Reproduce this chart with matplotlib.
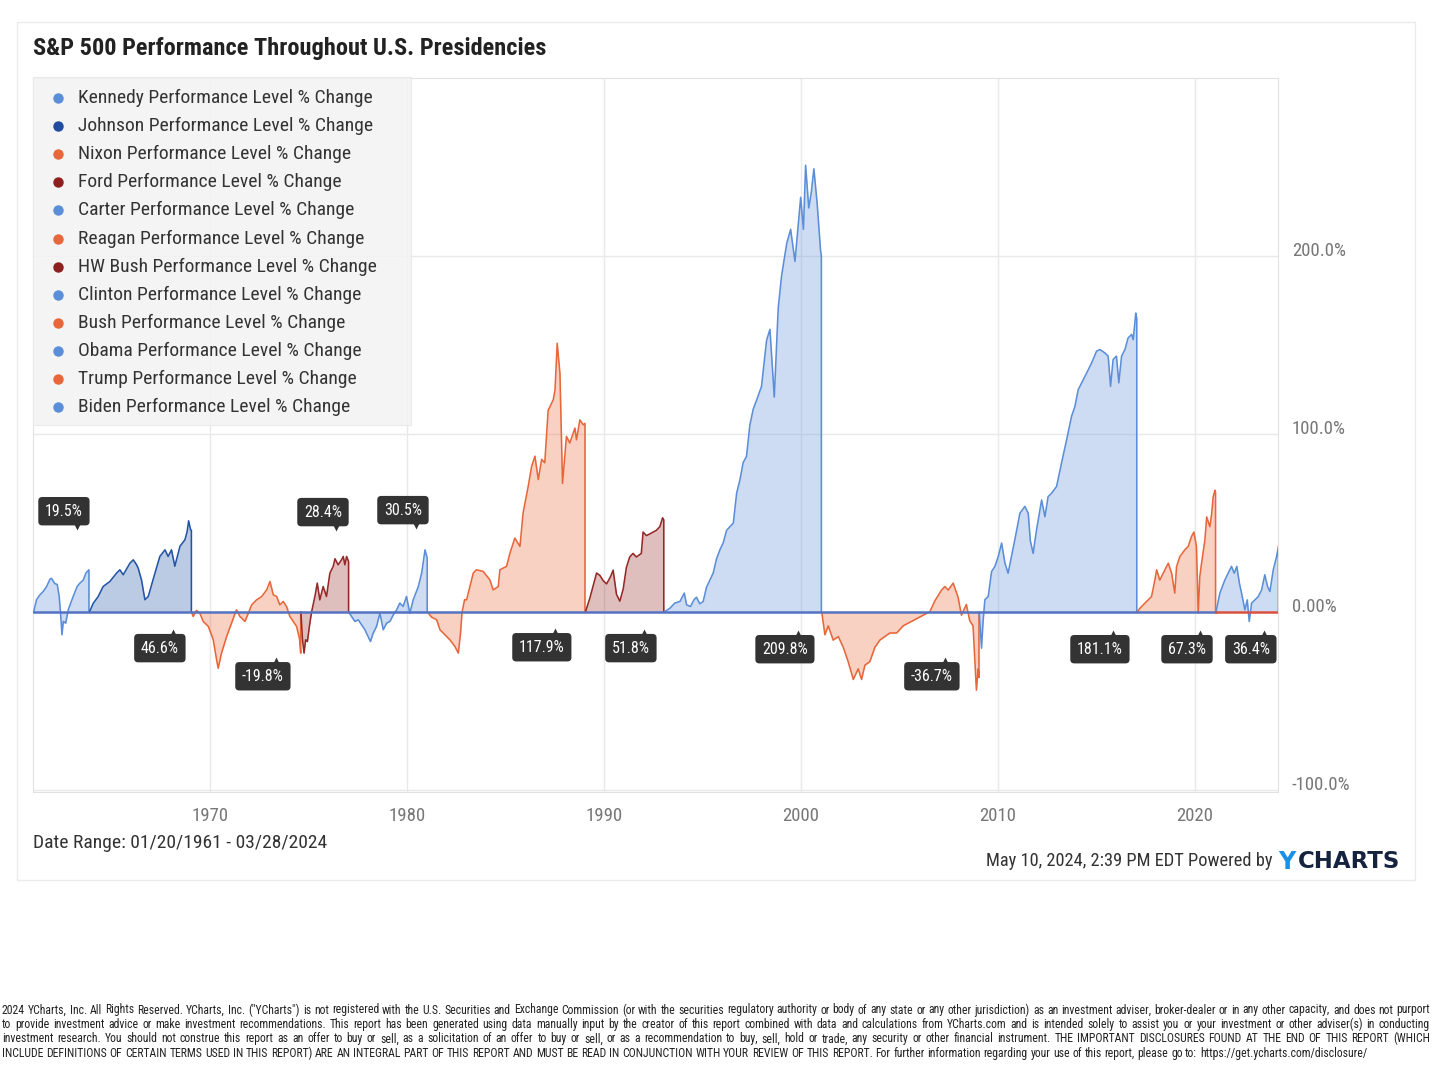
import numpy as np
import matplotlib
matplotlib.use("Agg")
import matplotlib.pyplot as plt
from matplotlib import font_manager as fm
from matplotlib.patches import Rectangle


def pick_font(names):
    for n in names:
        try:
            fm.findfont(fm.FontProperties(family=n), fallback_to_default=False)
            return n
        except Exception:
            pass
    return "DejaVu Sans"


NARROW = pick_font(["Roboto Condensed", "Liberation Sans Narrow", "DejaVu Sans Condensed", "Roboto"])
plt.rcParams["font.family"] = [NARROW, "DejaVu Sans"]

# ---- data (decimal year, % change since inauguration) ----
presidents = ["Kennedy", "Johnson", "Nixon", "Ford", "Carter", "Reagan",
              "HW Bush", "Clinton", "Bush", "Obama", "Trump", "Biden"]
kind = ["D", "D2", "R", "R2", "D", "R", "R2", "D", "R", "D", "R", "D"]

kennedy_t = [1961.05, 1961.2, 1961.37, 1961.54, 1961.71, 1961.88, 1961.96, 1962.13, 1962.25, 1962.35,
             1962.42, 1962.49, 1962.56, 1962.68, 1962.81, 1962.93, 1963.06, 1963.26, 1963.4, 1963.57,
             1963.71, 1963.86]
kennedy_v = [0, 7, 9.7, 11.6, 14.4, 18.5, 19, 16, 15.6, 8.8, -0.6, -12.7, -5.2, -6.2, 1.3, 5, 8.8, 14.4,
             16.3, 18, 22, 23.8]

johnson_t = [1963.88, 1964.08, 1964.33, 1964.58, 1964.92, 1965.26, 1965.43, 1965.6, 1965.94, 1966.11,
             1966.28, 1966.36, 1966.53, 1966.7, 1966.87, 1967.21, 1967.46, 1967.72, 1967.88, 1968.05,
             1968.22, 1968.48, 1968.73, 1968.84, 1968.92, 1969.02, 1969.06]
johnson_v = [0, 5, 8.8, 14.4, 17.2, 21.9, 23.8, 21, 27.5, 29.4, 26.6, 24.7, 18, 7, 8.8, 21.9, 31.3, 35,
             31.3, 35, 25.8, 37, 40.6, 45, 51.3, 46.3, 46]

nixon_t = [1969.07, 1969.15, 1969.32, 1969.49, 1969.66, 1969.92, 1970.17, 1970.34, 1970.42, 1970.59,
           1970.85, 1971.19, 1971.35, 1971.52, 1971.78, 1971.95, 1972.12, 1972.37, 1972.63, 1972.88,
           1973.05, 1973.22, 1973.39, 1973.55, 1973.72, 1973.89, 1974.06, 1974.23, 1974.4, 1974.55,
           1974.61]
nixon_v = [0, -2.4, 1, -0.6, -5.2, -8, -15.5, -26.8, -31.5, -23, -13.7, -3.4, 1.3, -2.4, -5.2, -0.6, 4.1,
           6.9, 8.8, 12.5, 17.2, 9.7, 8.8, 4.1, 6, 3.2, -2.4, -5.2, -8, -15, -23]

ford_t = [1974.62, 1974.7, 1974.78, 1974.86, 1974.95, 1975.05, 1975.16, 1975.33, 1975.45, 1975.58,
          1975.75, 1975.92, 1976.09, 1976.26, 1976.35, 1976.51, 1976.68, 1976.77, 1976.85, 1976.94,
          1977.04]
ford_v = [0, -15.5, -23, -15.5, -16.5, -8, 0, 8.8, 16.3, 6.9, 14.4, 8.8, 21.9, 25.7, 30, 26.6, 29.4,
          31.3, 26.6, 31.3, 28.4]

carter_t = [1977.05, 1977.19, 1977.36, 1977.53, 1977.7, 1977.87, 1978.03, 1978.15, 1978.29, 1978.46,
            1978.63, 1978.8, 1978.97, 1979.14, 1979.31, 1979.48, 1979.64, 1979.81, 1979.98, 1980.15,
            1980.32, 1980.58, 1980.75, 1980.92, 1981.03]
carter_v = [0, -2.4, -5.2, -4.3, -7.1, -9.9, -13.7, -16.5, -11.8, -8, -0.6, -9.9, -6.2, -5.2, -1.5, 1.3,
            5.1, 3.2, 8.8, -0.6, 6.9, 14.4, 21.9, 35, 30.5]

reagan_t = [1981.05, 1981.25, 1981.51, 1981.68, 1981.93, 1982.18, 1982.44, 1982.61, 1982.72, 1982.8,
            1982.93, 1983.03, 1983.37, 1983.53, 1983.87, 1984.21, 1984.38, 1984.64, 1984.72, 1985.06,
            1985.23, 1985.48, 1985.74, 1985.9, 1986.16, 1986.33, 1986.5, 1986.67, 1986.84, 1987.0,
            1987.17, 1987.43, 1987.52, 1987.63, 1987.77, 1987.9, 1988.1, 1988.27, 1988.53, 1988.61,
            1988.78, 1988.95, 1989.04]
reagan_v = [0, -2.8, -4.3, -9.9, -12.7, -15.5, -19.3, -23, -12, 0, 7, 6.9, 22, 23.8, 22.9, 18.2, 12.5,
            14.4, 23.8, 25.7, 33.1, 41.6, 36.9, 55.8, 70.8, 81.8, 87.6, 74.5, 85.8, 83.9, 113.3, 119.3,
            125, 151, 134, 72.3, 98.7, 95, 103.4, 96.8, 108, 105.2, 106]

hwbush_t = [1989.06, 1989.29, 1989.46, 1989.63, 1989.8, 1989.97, 1990.14, 1990.34, 1990.47, 1990.64,
            1990.81, 1990.98, 1991.14, 1991.31, 1991.48, 1991.65, 1991.9, 1991.99, 1992.16, 1992.34,
            1992.5, 1992.67, 1992.84, 1992.98, 1993.04]
hwbush_v = [0, 8, 15, 22, 20.6, 17.6, 15.9, 20, 23.6, 10, 6.2, 13, 25, 31, 33, 31, 33, 45, 43, 44, 45,
            46, 48, 53, 51.8]

clinton_t = [1993.05, 1993.35, 1993.6, 1993.86, 1994.08, 1994.2, 1994.4, 1994.57, 1994.7, 1994.87,
             1995.04, 1995.21, 1995.55, 1995.72, 1995.89, 1996.06, 1996.23, 1996.4, 1996.57, 1996.74,
             1996.9, 1997.07, 1997.24, 1997.41, 1997.58, 1997.75, 1998.0, 1998.26, 1998.43, 1998.65,
             1998.85, 1999.02, 1999.28, 1999.48, 1999.7, 1999.99, 2000.13, 2000.24, 2000.4, 2000.52,
             2000.66, 2000.83, 2001.0, 2001.04]
clinton_v = [0, 2.2, 5.1, 6, 10.7, 4.1, 3.2, 6.9, 8.4, 4.7, 6, 14, 22, 30, 35, 39, 46, 48, 50, 66.9,
             74, 84, 87.5, 105, 114, 119, 126.7, 152.8, 158.8, 120.8, 170.8, 188.9, 207, 215, 197, 233,
             215, 251, 227, 235, 249, 229, 203, 200]

bush_t = [2001.06, 2001.22, 2001.39, 2001.64, 2001.9, 2002.15, 2002.4, 2002.66, 2002.91, 2003.08,
          2003.25, 2003.5, 2003.76, 2004.01, 2004.26, 2004.52, 2004.86, 2005.19, 2005.53, 2005.87,
          2006.21, 2006.55, 2006.8, 2007.14, 2007.31, 2007.48, 2007.73, 2007.98, 2008.15, 2008.4,
          2008.57, 2008.74, 2008.91, 2009.0, 2009.04]
bush_v = [0, -12.7, -7.7, -15.7, -13.7, -19.7, -27.8, -37.8, -31.8, -37.8, -29.8, -27.8, -19.7, -15.7,
          -13.7, -11.7, -11.7, -7.7, -5.7, -3.7, -1.7, 0.3, 6.3, 12.4, 14.4, 12.4, 16.3, 8.4, -1.7, 4.3,
          -4.7, -7.7, -43.8, -31.8, -36.7]

obama_t = [2009.05, 2009.1, 2009.17, 2009.25, 2009.34, 2009.51, 2009.68, 2009.85, 2010.02, 2010.19,
           2010.36, 2010.52, 2010.69, 2010.86, 2011.12, 2011.37, 2011.54, 2011.65, 2011.79, 2011.96,
           2012.22, 2012.39, 2012.55, 2012.72, 2012.98, 2013.23, 2013.49, 2013.74, 2013.91, 2014.08,
           2014.42, 2014.76, 2015.01, 2015.18, 2015.43, 2015.6, 2015.72, 2015.85, 2016.02, 2016.14,
           2016.28, 2016.45, 2016.61, 2016.79, 2016.87, 2017.0, 2017.05]
obama_v = [0, -8, -20.2, -5, 7, 8.8, 22.8, 25.7, 31.3, 38.8, 27.5, 21.9, 31.3, 40.6, 55.6, 59.4, 55.6,
           40, 33, 46, 63, 53.6, 64.9, 66.7, 70.6, 83.7, 96.8, 110, 115.5, 125, 132.4, 140, 146.6,
           147.5, 145.6, 143.8, 126.8, 141.9, 143.8, 128.8, 143.8, 147.5, 154, 156, 153, 168, 165]

trump_t = [2017.07, 2017.21, 2017.55, 2017.8, 2017.97, 2018.06, 2018.22, 2018.48, 2018.65, 2018.82,
           2018.98, 2019.07, 2019.24, 2019.49, 2019.66, 2019.83, 2019.95, 2020.08, 2020.17, 2020.25,
           2020.34, 2020.51, 2020.6, 2020.76, 2020.85, 2020.93, 2021.02, 2021.05]
trump_v = [0, 2.2, 6, 8.8, 18, 23.8, 18, 23.8, 27.5, 21.9, 10.7, 25.5, 31.3, 35, 36.9, 42.5, 45, 37,
           -0.6, 20, 27.5, 40.6, 53.5, 48, 55, 64.8, 68.5, 67.3]

biden_t = [2021.07, 2021.27, 2021.52, 2021.69, 2021.86, 2022.0, 2022.13, 2022.26, 2022.37, 2022.54,
           2022.66, 2022.76, 2022.88, 2023.05, 2023.22, 2023.39, 2023.55, 2023.69, 2023.81, 2023.98,
           2024.15, 2024.24]
biden_v = [0, 10.7, 18, 21.9, 25.7, 21.9, 25.7, 16.3, 10.7, 1.3, 6.9, -5.2, 5.1, 6.9, 8.8, 12.5, 21,
           14.4, 11.6, 23.8, 31.3, 37]

series_t = [kennedy_t, johnson_t, nixon_t, ford_t, carter_t, reagan_t,
            hwbush_t, clinton_t, bush_t, obama_t, trump_t, biden_t]
series_v = [kennedy_v, johnson_v, nixon_v, ford_v, carter_v, reagan_v,
            hwbush_v, clinton_v, bush_v, obama_v, trump_v, biden_v]

end_labels = ["19.5%", "46.6%", "-19.8%", "28.4%", "30.5%", "117.9%",
              "51.8%", "209.8%", "-36.7%", "181.1%", "67.3%", "36.4%"]

# ---- style ----
line_col = {"D": "#5B8ED8", "D2": "#2354A6", "R": "#E8673A", "R2": "#962828"}
dot_col = {"D": "#5B8ED8", "D2": "#1F4C9E", "R": "#E8673A", "R2": "#8E1F1F"}

W, H = 1434, 1068
fig = plt.figure(figsize=(W / 100, H / 100), dpi=100)
fig.patch.set_facecolor("white")


def fx(px):
    return px / W


def fy(py):
    return 1 - py / H


# card frame
fig.patches.append(Rectangle((fx(17), fy(880)), fx(1415) - fx(17), fy(22) - fy(880),
                             transform=fig.transFigure, fc="white", ec="#EBEBEB", lw=1, zorder=-5))

ax = fig.add_axes([fx(33), fy(792), fx(1278) - fx(33), fy(78) - fy(792)])
ax.patch.set_alpha(0)
ax.set_xlim(1961.02, 2024.22)
ax.set_ylim(-101, 300)

ax.set_xticks([1970, 1980, 1990, 2000, 2010, 2020])
ax.set_yticks([-100, 0, 100, 200])
ax.set_yticklabels(["-100.0%", "0.00%", "100.0%", "200.0%"])
ax.yaxis.tick_right()
ax.tick_params(axis="both", length=0, colors="#777777", labelsize=13.5)
ax.tick_params(axis="x", pad=11)
ax.tick_params(axis="y", pad=10)
for lab in ax.get_yticklabels():
    lab.set_transform(lab.get_transform() + matplotlib.transforms.ScaledTranslation(0, 7 / 100, fig.dpi_scale_trans))
ax.grid(True, color="#E9E9E9", lw=1)
ax.set_axisbelow(True)
for sp in ax.spines.values():
    sp.set_color("#E2E2E2")

for t, v, k in zip(series_t, series_v, kind):
    c = line_col[k]
    ax.fill_between(t, v, 0, color=c, alpha=0.3, lw=0, zorder=2)
    ax.plot(list(t) + [t[-1]], list(v) + [0], color=c, lw=1.15, zorder=3)

# zero baseline
ax.plot([kennedy_t[0], trump_t[-1]], [0, 0], color="#5473C2", lw=1.8, zorder=4)
ax.plot([trump_t[-1], biden_t[-1]], [0, 0], color="#D9533E", lw=1.8, zorder=4)

# value badges (x, y of box centre, pointer up/down)
badge_pos = [(1962.59, 56.7, "v"), (1967.46, -20.2, "^"), (1972.69, -36, "^"), (1975.74, 56.2, "v"),
             (1979.8, 57.3, "v"), (1986.85, -19.7, "^"), (1991.37, -20.2, "^"), (1999.19, -20.8, "^"),
             (2006.65, -36, "^"), (2015.18, -20.8, "^"), (2019.6, -20.8, "^"), (2022.84, -20.8, "^")]
for s, (bx, by, d) in zip(end_labels, badge_pos):
    ax.text(bx, by, s, ha="center", va="center", color="white", fontsize=11.5, zorder=6,
            bbox=dict(boxstyle="round,pad=0.42,rounding_size=0.25", fc="#333333", ec="none"))
    py = by + 8.4 if d == "^" else by - 8.4
    ax.plot(bx + 0.65, py, marker=d, color="#333333", ms=6, zorder=6, mec="none")

# legend box
fig.patches.append(Rectangle((fx(33), fy(425)), fx(411) - fx(33), fy(77) - fy(425),
                             transform=fig.transFigure, fc="#F3F3F3", ec="#E8E8E8", lw=0.8,
                             alpha=0.85, zorder=5))
for i, (name, k) in enumerate(zip(presidents, kind)):
    yy = 98 + i * 28.1
    fig.lines.append(plt.Line2D([fx(58)], [fy(yy)], marker="o", ms=6.5, color=dot_col[k],
                                transform=fig.transFigure, zorder=6))
    fig.text(fx(78), fy(yy), f"{name} Performance Level % Change", fontsize=14, color="#333333",
             va="center", ha="left", zorder=6)

fig.text(fx(33), fy(48), "S&P 500 Performance Throughout U.S. Presidencies", fontsize=17.6,
         fontweight="bold", color="#222222", va="center", ha="left")

fig.text(fx(33), fy(843), "Date Range: 01/20/1961 - 03/28/2024", fontsize=14, color="#333333",
         va="center", ha="left")
fig.text(fx(1272), fy(861), "May 10, 2024, 2:39 PM EDT Powered by", fontsize=13.2, color="#333333",
         va="center", ha="right")
fig.text(fx(1278), fy(862), "Y", fontsize=17, fontweight="bold", color="#1A8FE6", va="center",
         ha="left", family="DejaVu Sans")
fig.text(fx(1298), fy(862), "CHARTS", fontsize=16.5, fontweight="bold", color="#16233F", va="center",
         ha="left", family="DejaVu Sans")

# disclaimer, justified
disclaimer = [
    "2024 YCharts, Inc. All Rights Reserved. YCharts, Inc. (\"YCharts\") is not registered with the U.S. Securities and Exchange Commission (or with the securities regulatory authority or body of any state or any other jurisdiction) as an investment adviser, broker-dealer or in any other capacity, and does not purport",
    "to provide investment advice or make investment recommendations. This report has been generated using data manually input by the creator of this report combined with data and calculations from YCharts.com and is intended solely to assist you or your investment or other adviser(s) in conducting",
    "investment research. You should not construe this report as an offer to buy or sell, as a solicitation of an offer to buy or sell, or as a recommendation to buy, sell, hold or trade, any security or other financial instrument. THE IMPORTANT DISCLOSURES FOUND AT THE END OF THIS REPORT (WHICH",
    "INCLUDE DEFINITIONS OF CERTAIN TERMS USED IN THIS REPORT) ARE AN INTEGRAL PART OF THIS REPORT AND MUST BE READ IN CONJUNCTION WITH YOUR REVIEW OF THIS REPORT. For further information regarding your use of this report, please go to: https://get.ycharts.com/disclosure/",
]
renderer = fig.canvas.get_renderer()


def text_w(s, fs):
    t = fig.text(0, 0, s, fontsize=fs)
    w = t.get_window_extent(renderer).width
    t.remove()
    return w


fs = 10.0
fs = fs * 1380 / text_w(disclaimer[3], fs)
fs = min(fs, 8.5)
space = text_w("a a", fs) - text_w("aa", fs)
for i, line in enumerate(disclaimer):
    words = line.split(" ")
    widths = [text_w(w, fs) for w in words]
    if i < 3:
        gap = (1428 - sum(widths)) / (len(words) - 1)
    else:
        gap = space
    x = 2
    for w, wd in zip(words, widths):
        fig.text(fx(x), fy(1010 + i * 14.4), w, fontsize=fs, color="#222222", va="center", ha="left")
        x += wd + gap

fig.savefig("out.png", dpi=100)
